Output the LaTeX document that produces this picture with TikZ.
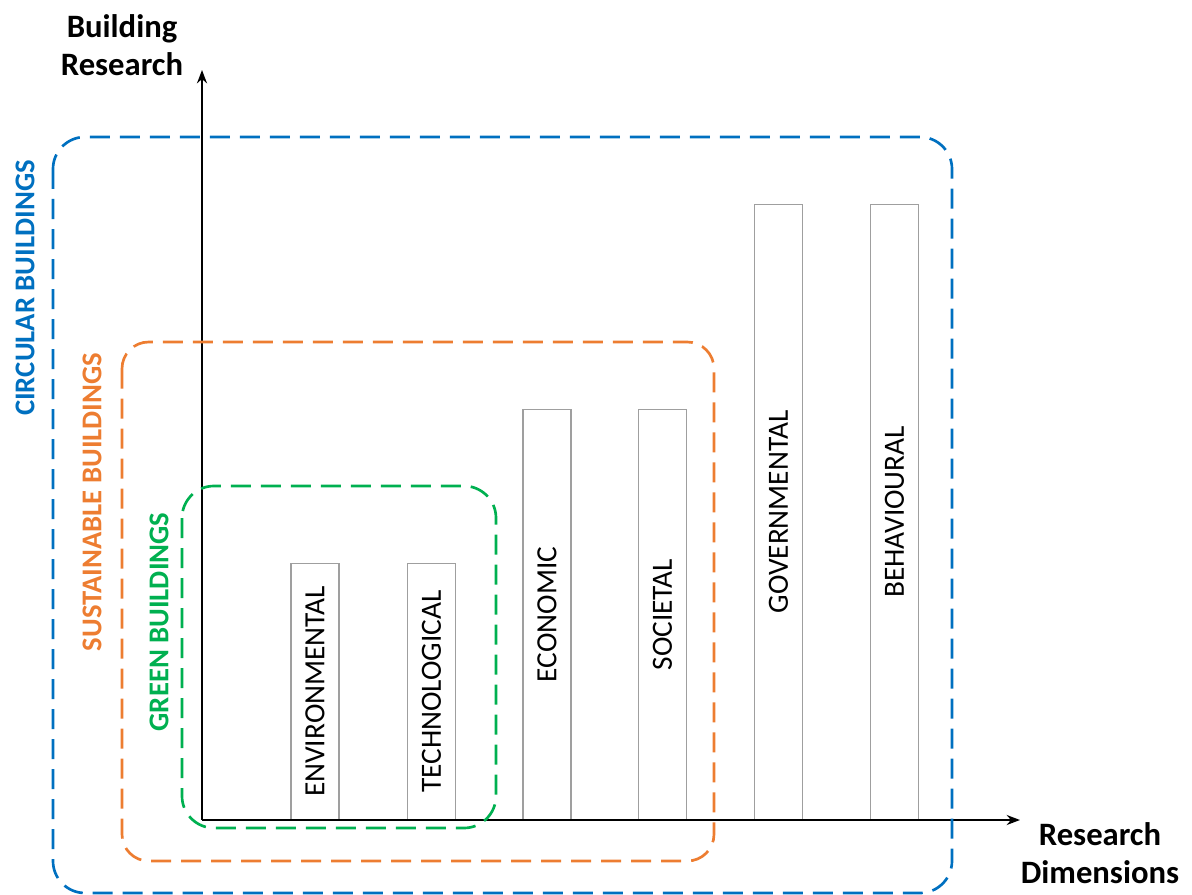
\documentclass[tikz,border=0pt]{standalone}
\usepackage{fontspec}
\setmainfont{Carlito}
\usetikzlibrary{arrows.meta}
\definecolor{cblue}{HTML}{0070C0}
\definecolor{corange}{HTML}{ED7D31}
\definecolor{cgreen}{HTML}{00B050}
\tikzset{
  axisline/.style={line width=1.5pt, -{Stealth[length=10pt,width=7.5pt]}},
  bar/.style={draw=gray!75, line width=0.8pt, fill=white, rotate=90, anchor=west,
    minimum height=36pt, inner sep=0pt, font=\fontsize{22}{25}\selectfont},
  zone/.style={line width=2pt, dash pattern=on 15pt off 7.5pt},
  axlabel/.style={font=\fontsize{24.5}{29}\selectfont\bfseries, align=center},
  zonelabel/.style={font=\fontsize{21.5}{24}\selectfont\bfseries, rotate=90},
}
\begin{document}
\begin{tikzpicture}[x=0.75pt,y=-0.75pt]
\useasboundingbox (0,0) rectangle (1192,895);
% bars
\node[bar, minimum width=192pt] (env) at (315,820) {ENVIRONMENTAL};
\node[bar, minimum width=192pt] (tech) at (431.5,820) {TECHNOLOGICAL};
\node[bar, minimum width=307.5pt] (econ) at (547,820) {ECONOMIC};
\node[bar, minimum width=307.5pt] (soc) at (662.5,820) {SOCIETAL};
\node[bar, minimum width=461.25pt] (gov) at (778.5,820) {GOVERNMENTAL};
\node[bar, minimum width=461.25pt] (beh) at (894.5,820) {BEHAVIOURAL};
% axes
\coordinate (O) at (202,820);
\coordinate (ytip) at (202,70);
\coordinate (xtip) at (1020,820);
\draw[axisline] (O) -- (ytip);
\draw[axisline] (O) -- (xtip);
\node[axlabel] (ylab) at (122,45) {Building\\Research};
\node[axlabel] (xlab) at (1100,853) {Research\\Dimensions};
% zones
\draw[zone, draw=cblue, rounded corners=24pt] (53,137) rectangle (952,893);
\draw[zone, draw=corange, rounded corners=20pt] (122,342) rectangle (714,861);
\draw[zone, draw=cgreen, rounded corners=24pt] (182,486) rectangle (496,828);
\node[zonelabel, text=cblue] (circ) at (25,288) {CIRCULAR BUILDINGS};
\node[zonelabel, text=corange] (sust) at (92,502) {SUSTAINABLE BUILDINGS};
\node[zonelabel, text=cgreen] (green) at (159,622) {GREEN BUILDINGS};
\end{tikzpicture}
\end{document}
